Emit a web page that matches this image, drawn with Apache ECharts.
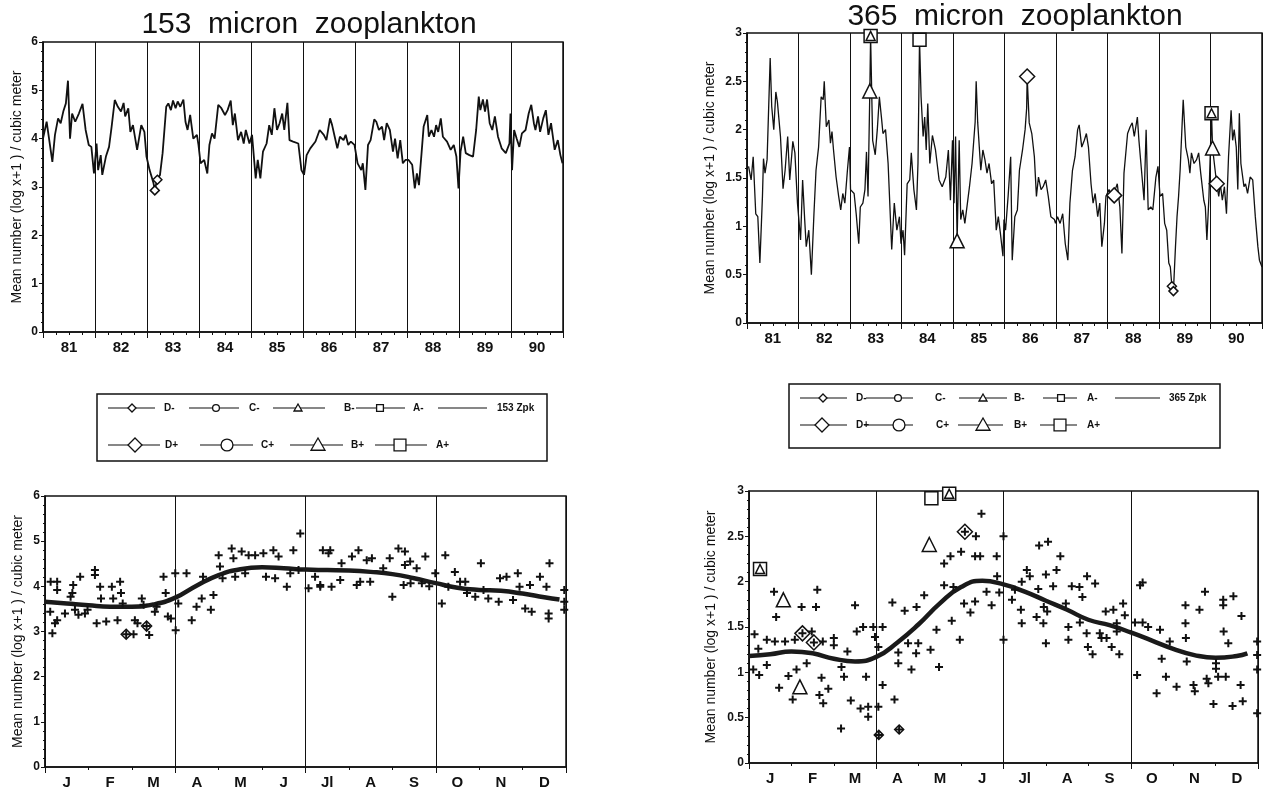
<!DOCTYPE html>
<html>
<head>
<meta charset="utf-8">
<script src="https://cdn.jsdelivr.net/npm/echarts@6/dist/echarts.min.js"></script>
<style>
  html, body { margin: 0; padding: 0; background: #fff; }
  #chart { width: 1278px; height: 792px; }
</style>
</head>
<body>
<div id="chart"></div>
<script>
// ---- 153 micron zooplankton, cruise means 1981-1990 [decimal year, log(x+1)] ----
const zpk153Series = [
  [81.00,4.00],[81.07,4.35],[81.18,3.52],[81.23,4.08],[81.29,4.42],[81.34,4.32],[81.39,4.56],[81.44,4.73],[81.48,5.20],[81.52,4.00],[81.56,4.52],[81.62,4.35],[81.69,4.52],[81.76,4.72],[81.82,4.18],[81.88,3.87],[81.93,3.83],[81.98,3.28],
  [82.03,3.90],[82.06,3.35],[82.11,3.66],[82.14,3.25],[82.21,3.63],[82.27,3.83],[82.32,4.25],[82.38,4.80],[82.44,4.66],[82.50,4.56],[82.55,4.74],[82.58,4.46],[82.64,4.63],[82.68,4.14],[82.73,4.28],[82.81,3.77],[82.89,4.28],[82.95,4.14],[82.99,3.63],
  [83.05,3.35],[83.12,3.10],[83.15,2.95],[83.20,3.16],[83.25,3.25],[83.30,3.70],[83.37,4.66],[83.41,4.73],[83.46,4.59],[83.50,4.79],[83.55,4.63],[83.59,4.77],[83.64,4.66],[83.70,4.81],[83.74,4.35],[83.78,4.18],[83.83,4.49],[83.89,4.00],[83.96,4.08],[83.99,3.87],
  [84.03,3.49],[84.10,3.56],[84.16,3.28],[84.20,3.87],[84.25,4.11],[84.30,4.00],[84.37,4.70],[84.43,4.63],[84.50,4.49],[84.55,4.59],[84.61,4.79],[84.65,4.28],[84.69,4.52],[84.75,3.97],[84.81,4.14],[84.86,3.90],[84.90,4.18],[84.97,3.90],
  [85.02,4.08],[85.09,3.18],[85.13,3.56],[85.18,3.18],[85.23,3.73],[85.30,3.90],[85.35,4.28],[85.40,4.08],[85.45,4.63],[85.50,4.18],[85.55,4.32],[85.60,4.52],[85.64,4.18],[85.70,4.74],[85.74,3.97],[85.81,3.94],[85.91,3.90],[85.97,3.35],
  [86.02,3.25],[86.07,3.66],[86.14,3.80],[86.24,3.94],[86.32,4.18],[86.40,4.08],[86.45,3.97],[86.52,4.42],[86.56,4.28],[86.61,4.04],[86.66,3.80],[86.71,4.04],[86.78,3.97],[86.82,4.08],[86.87,3.87],[86.92,3.94],[86.99,3.87],
  [87.05,3.49],[87.12,3.35],[87.15,3.49],[87.20,2.94],[87.25,3.87],[87.30,3.97],[87.37,4.40],[87.41,4.35],[87.46,4.18],[87.52,4.25],[87.56,3.97],[87.61,4.32],[87.67,4.18],[87.73,3.73],[87.77,4.00],[87.82,3.59],[87.87,3.97],[87.92,3.49],[87.97,3.56],
  [88.03,3.56],[88.10,3.46],[88.15,2.97],[88.19,3.28],[88.23,3.04],[88.28,3.70],[88.32,4.25],[88.39,4.49],[88.42,4.04],[88.47,4.18],[88.52,4.04],[88.56,4.28],[88.60,4.14],[88.65,4.42],[88.69,4.04],[88.77,3.94],[88.84,3.77],[88.90,3.87],[88.95,3.63],[88.99,2.97],
  [89.03,3.73],[89.08,4.04],[89.13,3.70],[89.20,3.66],[89.27,3.63],[89.33,4.18],[89.38,4.87],[89.41,4.59],[89.46,4.81],[89.50,4.56],[89.54,4.81],[89.59,4.32],[89.64,4.18],[89.69,4.46],[89.75,4.04],[89.82,3.80],[89.90,3.70],[89.97,3.90],[89.99,4.52],
  [90.02,3.35],[90.06,4.18],[90.11,4.00],[90.16,3.83],[90.21,4.11],[90.28,4.18],[90.34,4.52],[90.39,4.70],[90.44,4.32],[90.47,4.18],[90.52,4.46],[90.56,4.14],[90.62,4.42],[90.67,4.59],[90.72,4.08],[90.77,4.32],[90.84,3.77],[90.90,3.97],[90.95,3.66],[90.99,3.49]
];
const zpk153DMinus = [[83.15,2.93],[83.20,3.15]];

// ---- 365 micron zooplankton, 1981-1990 ----
const zpk365Series = [
  [81.03,1.62],[81.08,1.48],[81.12,1.72],[81.17,1.13],[81.21,1.10],[81.25,0.62],[81.30,1.31],[81.32,1.70],[81.35,1.55],[81.39,1.69],[81.45,2.74],[81.48,2.24],[81.52,2.00],[81.56,2.39],[81.59,2.29],[81.65,1.93],[81.70,1.39],[81.74,1.58],[81.79,1.93],[81.83,1.48],[81.89,1.88],[81.93,1.76],[81.98,1.24],
  [82.04,0.86],[82.08,1.48],[82.12,1.07],[82.15,0.79],[82.20,0.96],[82.25,0.50],[82.30,1.13],[82.34,1.58],[82.39,1.82],[82.44,2.34],[82.48,2.31],[82.50,2.50],[82.54,2.03],[82.59,2.10],[82.62,1.86],[82.65,1.98],[82.68,1.79],[82.73,1.51],[82.78,1.31],[82.82,1.17],[82.86,1.34],[82.90,1.24],[82.95,1.58],[82.99,1.82],
  [83.01,1.38],[83.08,1.34],[83.12,1.13],[83.17,0.82],[83.20,1.20],[83.25,1.24],[83.29,1.38],[83.32,1.77],[83.35,1.31],[83.385,2.40],[83.40,2.97],[83.44,1.89],[83.49,1.74],[83.53,2.00],[83.57,2.34],[83.61,2.13],[83.64,1.96],[83.69,2.00],[83.74,1.65],[83.81,0.76],[83.86,1.24],[83.91,0.96],[83.96,1.10],[83.99,0.82],
  [84.03,0.96],[84.06,0.70],[84.11,1.44],[84.16,1.48],[84.19,1.76],[84.24,1.38],[84.29,1.17],[84.32,1.65],[84.35,2.93],[84.38,2.34],[84.42,1.93],[84.45,2.13],[84.48,1.79],[84.51,2.27],[84.55,1.65],[84.60,1.94],[84.66,1.79],[84.73,1.48],[84.79,1.41],[84.86,1.51],[84.91,1.79],[84.95,1.27],[84.99,1.89],
  [85.02,1.24],[85.05,1.93],[85.08,0.85],[85.12,1.89],[85.15,1.07],[85.19,1.17],[85.23,1.03],[85.28,1.24],[85.32,1.41],[85.37,1.65],[85.43,2.08],[85.45,2.50],[85.48,2.07],[85.54,1.58],[85.58,1.79],[85.62,1.69],[85.66,1.55],[85.70,1.65],[85.75,1.44],[85.79,1.48],[85.84,0.96],[85.88,1.10],[85.92,0.93],[85.97,0.69],[85.99,1.07],
  [86.02,0.96],[86.07,1.31],[86.12,1.72],[86.15,0.65],[86.20,1.10],[86.25,1.17],[86.29,1.58],[86.35,1.79],[86.40,2.00],[86.43,2.22],[86.44,2.55],[86.48,2.07],[86.53,1.96],[86.58,1.72],[86.62,1.31],[86.66,1.51],[86.71,1.38],[86.75,1.41],[86.80,1.48],[86.85,1.31],[86.90,1.10],[86.97,1.07],[86.99,1.03],
  [87.03,1.10],[87.08,1.03],[87.13,1.13],[87.18,0.82],[87.23,0.65],[87.27,1.24],[87.32,1.58],[87.37,1.72],[87.42,2.00],[87.45,2.05],[87.50,1.82],[87.55,1.89],[87.59,1.96],[87.63,1.82],[87.68,1.44],[87.72,1.24],[87.76,1.34],[87.81,1.10],[87.85,1.24],[87.89,0.79],[87.94,1.03],[87.97,1.31],
  [88.03,1.38],[88.10,1.30],[88.13,1.32],[88.15,1.38],[88.19,1.44],[88.24,1.20],[88.28,0.72],[88.32,1.55],[88.39,1.96],[88.44,2.03],[88.48,2.07],[88.52,1.93],[88.55,2.03],[88.58,2.13],[88.61,1.89],[88.66,1.58],[88.71,1.27],[88.75,2.00],[88.79,1.17],[88.84,1.20],[88.88,1.17],[88.94,1.51],[88.98,1.62],
  [89.02,1.31],[89.07,1.34],[89.11,1.03],[89.15,0.96],[89.19,0.62],[89.22,0.58],[89.25,0.38],[89.28,0.33],[89.32,0.79],[89.35,1.10],[89.38,1.31],[89.41,1.58],[89.45,2.07],[89.47,2.31],[89.52,1.82],[89.57,1.69],[89.60,1.55],[89.63,1.76],[89.68,1.65],[89.73,1.69],[89.77,1.76],[89.81,1.55],[89.87,1.27],[89.90,1.20],[89.93,0.86],[89.97,1.31],
  [90.02,2.17],[90.04,1.81],[90.12,1.44],[90.16,1.31],[90.19,1.44],[90.23,1.27],[90.27,1.41],[90.31,1.13],[90.35,1.72],[90.40,2.20],[90.43,1.89],[90.46,2.00],[90.50,1.82],[90.53,1.38],[90.56,2.17],[90.59,1.65],[90.65,1.41],[90.68,1.44],[90.72,1.34],[90.77,1.51],[90.82,1.48],[90.87,1.10],[90.92,0.79],[90.95,0.65],[91.00,0.58]
];
const zpk365APlus  = [[83.40,2.97],[84.35,2.93],[90.02,2.17]];
const zpk365BMinus = [[83.40,2.97],[90.02,2.17]];
const zpk365BPlus  = [[83.385,2.40],[85.08,0.85],[90.04,1.81]];
const zpk365DPlus  = [[86.44,2.55],[88.13,1.32],[90.12,1.44]];
const zpk365DMinus = [[89.25,0.38],[89.28,0.33]];

// ---- seasonal view: month of year (0-12) ----
const monthNames = ['J','F','M','A','M','J','Jl','A','S','O','N','D'];
const yearNames = ['81','82','83','84','85','86','87','88','89','90'];

const season153Points = [
  [0.12,3.44],[0.17,2.96],[0.13,4.10],[0.28,4.10],[0.28,3.92],[0.28,3.25],[0.23,3.18],[0.46,3.40],[0.59,3.77],[0.65,4.03],[0.69,3.48],[0.81,4.21],[0.63,3.85],[0.77,3.37],[0.92,3.40],[0.98,3.48],
  [1.15,4.36],[1.15,4.25],[1.19,3.18],[1.27,3.99],[1.29,3.73],[1.41,3.22],[1.54,3.99],[1.57,3.73],[1.67,3.25],[1.73,4.10],[1.75,3.85],[1.79,3.62],[1.87,2.94],
  [2.04,2.94],[2.07,3.25],[2.13,3.18],[2.23,3.73],[2.27,3.59],[2.34,3.12],[2.40,2.92],[2.53,3.44],[2.57,3.55],[2.73,4.21],[2.78,3.85],[2.83,3.33],[2.90,3.29],
  [3.00,4.29],[3.01,3.03],[3.07,3.62],[3.26,4.29],[3.38,3.25],[3.49,3.55],[3.61,3.73],[3.64,4.21],[3.82,3.48],[3.88,3.81],
  [4.00,4.69],[4.03,4.44],[4.09,4.18],[4.30,4.84],[4.34,4.62],[4.53,4.77],[4.69,4.69],[4.38,4.21],[4.61,4.29],[4.84,4.69],
  [5.03,4.73],[5.09,4.21],[5.30,4.18],[5.26,4.80],[5.38,4.66],[5.57,3.99],[5.65,4.29],[5.88,5.17],[5.84,4.36],[5.72,4.80],
  [6.07,3.96],[6.22,4.21],[6.34,3.99],[6.40,4.80],[6.53,4.73],[6.57,4.80],[6.34,4.03],[6.60,3.99],[6.80,4.14],[6.83,4.51],
  [7.07,4.66],[7.18,4.03],[7.22,4.80],[7.26,4.10],[7.41,4.58],[7.49,4.10],[7.53,4.62],[7.79,4.40],[7.94,4.62],
  [8.00,3.77],[8.14,4.84],[8.29,4.77],[8.29,4.47],[8.26,4.03],[8.41,4.55],[8.42,4.07],[8.56,4.40],[8.68,4.07],[8.76,4.66],[8.85,4.00],[8.99,4.29],
  [9.22,4.69],[9.14,3.62],[9.29,3.99],[9.44,4.32],[9.56,4.10],[9.68,4.10],[9.72,3.85],[9.91,3.77],
  [10.04,4.51],[10.10,3.92],[10.21,3.73],[10.45,3.66],[10.48,4.18],[10.63,4.21],[10.78,3.70],[10.89,4.29],[10.93,3.99],
  [11.06,3.51],[11.17,4.03],[11.21,3.44],[11.40,4.21],[11.55,3.99],[11.60,3.40],[11.60,3.29],[11.62,4.51],[11.96,3.92],[11.96,3.66],[11.96,3.48]
];
const season153Curve = [
  [0,3.66],[0.5,3.62],[1,3.58],[1.5,3.55],[2,3.55],[2.5,3.60],[3,3.75],[3.5,4.02],[4,4.25],[4.5,4.38],[5,4.42],[5.5,4.40],[6,4.37],
  [6.5,4.36],[7,4.35],[7.5,4.32],[8,4.27],[8.5,4.18],[9,4.07],[9.5,3.97],[10,3.92],[10.5,3.90],[11,3.84],[11.5,3.76],[11.85,3.71]
];
const season153DMinus = [[1.87,2.94],[2.34,3.12]];

const season365Points = [
  [0.13,1.42],[0.10,1.03],[0.24,0.97],[0.22,1.26],[0.42,1.08],[0.42,1.36],[0.59,1.89],[0.64,1.61],[0.61,1.34],[0.71,0.83],[0.85,1.34],[0.93,0.96],
  [1.03,0.70],[1.12,1.03],[1.24,1.72],[1.08,1.36],[1.26,1.43],[1.36,1.10],[1.48,1.45],[1.53,1.33],[1.58,1.72],[1.61,1.91],[1.71,0.94],[1.66,0.75],[1.75,0.66],[1.87,0.82],[1.74,1.34],
  [2.00,1.38],[2.00,1.30],[2.18,1.06],[2.24,0.95],[2.17,0.38],[2.32,1.23],[2.40,0.69],[2.50,1.74],[2.54,1.45],[2.63,0.60],[2.69,1.50],[2.76,0.95],[2.81,0.51],[2.81,0.62],[2.93,1.50],[2.97,1.39],
  [3.05,0.62],[3.05,1.28],[3.06,0.31],[3.15,0.86],[3.15,1.50],[3.43,0.70],[3.38,1.77],[3.52,1.22],[3.52,1.10],[3.54,0.37],[3.67,1.68],[3.75,1.32],[3.83,1.03],[3.95,1.72],[3.99,1.32],[3.94,1.21],
  [4.13,1.85],[4.28,1.25],[4.48,1.06],[4.42,1.47],[4.60,2.20],[4.60,1.96],[4.75,2.28],[4.78,1.57],[4.82,1.94],[4.97,1.36],
  [5.00,2.33],[5.07,1.76],[5.09,2.55],[5.22,1.66],[5.33,2.28],[5.35,2.50],[5.33,1.78],[5.48,2.75],[5.45,2.28],[5.72,1.74],[5.60,1.89],[5.84,2.28],[5.85,2.06],[5.90,1.88],
  [6.00,2.50],[6.00,1.36],[6.20,1.80],[6.27,1.91],[6.43,2.00],[6.41,1.69],[6.43,1.54],[6.55,2.13],[6.62,2.06],[6.78,1.61],[6.84,2.40],[6.82,1.92],[6.94,1.54],[6.95,1.72],
  [7.00,1.32],[7.03,1.67],[7.05,2.44],[7.00,2.08],[7.17,1.95],[7.25,2.13],[7.34,2.28],[7.47,1.76],[7.53,1.50],[7.53,1.36],[7.61,1.95],[7.79,1.94],[7.80,1.55],[7.86,1.83],[7.96,1.43],[7.97,2.06],[7.99,1.28],
  [8.10,1.20],[8.16,1.98],[8.27,1.43],[8.31,1.38],[8.43,1.38],[8.41,1.67],[8.55,1.28],[8.59,1.69],[8.67,1.45],[8.73,1.20],[8.82,1.76],[8.86,1.63],[8.67,1.54],
  [9.15,0.97],[9.22,1.96],[9.28,1.99],[9.10,1.55],[9.28,1.55],[9.41,1.50],[9.61,0.77],[9.69,1.47],[9.73,1.15],[9.83,0.95],[9.92,1.34],
  [10.08,0.84],[10.29,1.74],[10.29,1.54],[10.30,1.38],[10.32,1.12],[10.48,0.86],[10.51,0.79],[10.62,1.69],[10.75,1.89],[10.79,0.93],[10.83,0.88],[10.95,0.65],
  [11.01,1.10],[11.01,1.04],[11.06,0.95],[11.18,1.80],[11.18,1.74],[11.19,1.45],[11.24,0.95],[11.30,1.32],[11.42,1.84],[11.40,0.63],[11.59,0.86],[11.64,0.68],[11.61,1.62],
  [11.98,1.34],[11.98,1.19],[11.98,1.03],[11.98,0.55]
];
const season365Curve = [
  [0,1.18],[0.5,1.20],[1,1.23],[1.5,1.21],[2,1.15],[2.5,1.12],[3,1.17],[3.5,1.33],[4,1.53],[4.5,1.76],[5,1.94],[5.5,2.01],[6,1.97],
  [6.5,1.89],[7,1.79],[7.5,1.69],[8,1.58],[8.5,1.52],[9,1.44],[9.5,1.35],[10,1.26],[10.5,1.19],[11,1.16],[11.5,1.18],[11.75,1.21]
];
const season365APlus  = [[0.26,2.14],[4.30,2.92],[4.72,2.97]];
const season365BMinus = [[0.26,2.14],[4.72,2.97]];
const season365BPlus  = [[0.81,1.80],[1.20,0.84],[4.25,2.41]];
const season365DPlus  = [[1.26,1.43],[1.53,1.33],[5.09,2.55]];
const season365DMinus = [[3.06,0.31],[3.54,0.37]];

// ---- drawing ----
const FONT = '"Liberation Sans", Arial, Helvetica, sans-serif';
const INK = '#111';
const PLUS = 'path://M3,0H5V3H8V5H5V8H3V5H0V3H3Z';
const Y_NAME = 'Mean number (log x+1 ) / cubic meter';

function boundaryXAxis(grid, min, max, interval, minorSplit) {
  return {
    type: 'value', gridIndex: grid, min, max, interval, position: 'bottom',
    axisLine: { show: true, onZero: false, lineStyle: { color: INK, width: 1.5 } },
    axisTick: { show: true, length: 6, lineStyle: { color: INK, width: 1 } },
    minorTick: { show: true, splitNumber: minorSplit, length: 3, lineStyle: { color: INK, width: 1 } },
    axisLabel: { show: false },
    splitLine: { show: true, lineStyle: { color: INK, width: 1 } }
  };
}
function labelXAxis(grid, min, max, names, offsetIndex) {
  return {
    type: 'value', gridIndex: grid, min, max, interval: 0.5, position: 'bottom',
    axisLine: { show: false }, axisTick: { show: false }, splitLine: { show: false },
    axisLabel: {
      show: true, margin: 8, fontSize: 15, fontWeight: 'bold', color: INK, fontFamily: FONT,
      formatter: v => (Math.round(v * 2) % 2 === 1) ? names[Math.floor(v) - offsetIndex] : ''
    }
  };
}
function valueYAxis(grid, max, interval, nameGap) {
  return {
    type: 'value', gridIndex: grid, min: 0, max, interval,
    name: Y_NAME, nameLocation: 'middle', nameGap, nameRotate: 90,
    nameTextStyle: { fontSize: 14, color: INK, fontFamily: FONT },
    axisLine: { show: true, onZero: false, lineStyle: { color: INK, width: 1.5 } },
    axisTick: { show: true, length: 4, lineStyle: { color: INK } },
    minorTick: { show: true, splitNumber: 5, length: 2, lineStyle: { color: INK } },
    axisLabel: { fontSize: 12, fontWeight: 'bold', color: INK, fontFamily: FONT, margin: 5 },
    splitLine: { show: false }
  };
}
function hollow(name, data, symbol, size, xi, yi) {
  return {
    name, type: 'scatter', data, symbol, symbolSize: size, xAxisIndex: xi, yAxisIndex: yi,
    itemStyle: { color: '#fff', borderColor: INK, borderWidth: 1.5, opacity: 1 }, z: 4
  };
}
function pluses(name, data, xi, yi) {
  return {
    name, type: 'scatter', data, symbol: PLUS, symbolSize: 8, xAxisIndex: xi, yAxisIndex: yi,
    itemStyle: { color: INK, opacity: 1 }, z: 5
  };
}

const gridStyle = { show: true, borderColor: INK, borderWidth: 1.5, backgroundColor: 'transparent', containLabel: false, outerBoundsMode: 'none' };

// framed key with two rows of line+marker samples
function legendKey(box, rows) {
  const els = [{ type: 'rect', shape: { x: box.x, y: box.y, width: box.w, height: box.h },
    style: { fill: '#fff', stroke: INK, lineWidth: 1.5 }, silent: true }];
  rows.forEach(row => row.items.forEach(it => {
    els.push({ type: 'line', shape: { x1: it.x1, y1: row.y, x2: it.x2, y2: row.y },
      style: { stroke: INK, lineWidth: 1.2 }, silent: true });
    if (it.kind) els.push(shapeEl(it.kind, it.m, row.y, it.size));
    els.push({ type: 'text', x: it.tx, y: row.y, silent: true,
      style: { text: it.label, fill: INK, font: 'bold 10px ' + FONT,
        verticalAlign: 'middle', textVerticalAlign: 'middle' } });
  }));
  return els;
}
function shapeEl(kind, cx, cy, s) {
  const h = s / 2;
  const st = { fill: '#fff', stroke: INK, lineWidth: 1.3 };
  if (kind === 'diamond') return { type: 'polygon', silent: true, shape: { points: [[cx, cy - h], [cx + h, cy], [cx, cy + h], [cx - h, cy]] }, style: st };
  if (kind === 'circle') return { type: 'circle', silent: true, shape: { cx, cy, r: h * 0.85 }, style: st };
  if (kind === 'triangle') return { type: 'polygon', silent: true, shape: { points: [[cx, cy - h], [cx + h, cy + h * 0.75], [cx - h, cy + h * 0.75]] }, style: st };
  return { type: 'rect', silent: true, shape: { x: cx - h * 0.85, y: cy - h * 0.85, width: s * 0.85, height: s * 0.85 }, style: st };
}

const leftKey = legendKey({ x: 97, y: 394, w: 450, h: 67 }, [
  { y: 408, items: [
    { x1: 108, x2: 155, m: 132, kind: 'diamond', size: 8, tx: 164, label: 'D-' },
    { x1: 189, x2: 239, m: 216, kind: 'circle', size: 8, tx: 249, label: 'C-' },
    { x1: 273, x2: 325, m: 298, kind: 'triangle', size: 8, tx: 344, label: 'B-' },
    { x1: 356, x2: 405, m: 380, kind: 'rect', size: 8, tx: 413, label: 'A-' },
    { x1: 438, x2: 487, tx: 497, label: '153 Zpk' }
  ] },
  { y: 445, items: [
    { x1: 108, x2: 160, m: 135, kind: 'diamond', size: 14, tx: 165, label: 'D+' },
    { x1: 200, x2: 253, m: 227, kind: 'circle', size: 14, tx: 261, label: 'C+' },
    { x1: 290, x2: 343, m: 318, kind: 'triangle', size: 14, tx: 351, label: 'B+' },
    { x1: 375, x2: 427, m: 400, kind: 'rect', size: 14, tx: 436, label: 'A+' }
  ] }
]);
const rightKey = legendKey({ x: 789, y: 384, w: 431, h: 64 }, [
  { y: 398, items: [
    { x1: 800, x2: 847, m: 823, kind: 'diamond', size: 8, tx: 856, label: 'D-' },
    { x1: 866, x2: 913, m: 898, kind: 'circle', size: 8, tx: 935, label: 'C-' },
    { x1: 959, x2: 1007, m: 983, kind: 'triangle', size: 8, tx: 1014, label: 'B-' },
    { x1: 1043, x2: 1077, m: 1061, kind: 'rect', size: 8, tx: 1087, label: 'A-' },
    { x1: 1115, x2: 1160, tx: 1169, label: '365 Zpk' }
  ] },
  { y: 425, items: [
    { x1: 800, x2: 847, m: 822, kind: 'diamond', size: 14, tx: 856, label: 'D+' },
    { x1: 864, x2: 913, m: 899, kind: 'circle', size: 14, tx: 936, label: 'C+' },
    { x1: 958, x2: 1003, m: 983, kind: 'triangle', size: 14, tx: 1014, label: 'B+' },
    { x1: 1040, x2: 1077, m: 1060, kind: 'rect', size: 14, tx: 1087, label: 'A+' }
  ] }
]);

const titles = [
  { type: 'text', x: 309, y: 25, silent: true, style: { text: '153  micron  zooplankton', fill: INK, font: '30px ' + FONT,
    align: 'center', verticalAlign: 'middle', textAlign: 'center', textVerticalAlign: 'middle' } },
  { type: 'text', x: 1015, y: 17, silent: true, style: { text: '365  micron  zooplankton', fill: INK, font: '30px ' + FONT,
    align: 'center', verticalAlign: 'middle', textAlign: 'center', textVerticalAlign: 'middle' } }
];

const chart = echarts.init(document.getElementById('chart'), null, { renderer: 'canvas' });
chart.setOption({
  animation: false,
  backgroundColor: '#fff',
  grid: [
    Object.assign({ left: 43, top: 42, width: 520, height: 290 }, gridStyle),
    Object.assign({ left: 747, top: 33, width: 515, height: 290 }, gridStyle),
    Object.assign({ left: 45, top: 496, width: 521, height: 271 }, gridStyle),
    Object.assign({ left: 749, top: 491, width: 509, height: 272 }, gridStyle)
  ],
  xAxis: [
    boundaryXAxis(0, 81, 91, 1, 4), labelXAxis(0, 81, 91, yearNames, 81),
    boundaryXAxis(1, 81, 91, 1, 4), labelXAxis(1, 81, 91, yearNames, 81),
    boundaryXAxis(2, 0, 12, 3, 3), labelXAxis(2, 0, 12, monthNames, 0),
    boundaryXAxis(3, 0, 12, 3, 3), labelXAxis(3, 0, 12, monthNames, 0)
  ],
  yAxis: [
    valueYAxis(0, 6, 1, 19),
    valueYAxis(1, 3, 0.5, 30),
    valueYAxis(2, 6, 1, 20),
    valueYAxis(3, 3, 0.5, 31)
  ],
  series: [
    { name: '153 Zpk', type: 'line', data: zpk153Series, xAxisIndex: 0, yAxisIndex: 0, showSymbol: false,
      lineStyle: { color: INK, width: 1.8 }, z: 3 },
    hollow('D-', zpk153DMinus, 'diamond', 9, 0, 0),

    { name: '365 Zpk', type: 'line', data: zpk365Series, xAxisIndex: 2, yAxisIndex: 1, showSymbol: false,
      lineStyle: { color: INK, width: 1.3 }, z: 3 },
    hollow('A+', zpk365APlus, 'rect', 13, 2, 1),
    hollow('B+', zpk365BPlus, 'triangle', 14, 2, 1),
    hollow('D+', zpk365DPlus, 'diamond', 15, 2, 1),
    hollow('D-', zpk365DMinus, 'diamond', 9, 2, 1),
    hollow('B-', zpk365BMinus, 'triangle', 9, 2, 1),

    { name: '153 seasonal', type: 'line', data: season153Curve, xAxisIndex: 4, yAxisIndex: 2, smooth: true, showSymbol: false,
      lineStyle: { color: '#1a1a1a', width: 4.5 }, z: 3 },
    hollow('D-', season153DMinus, 'diamond', 10, 4, 2),
    pluses('153 samples', season153Points, 4, 2),

    { name: '365 seasonal', type: 'line', data: season365Curve, xAxisIndex: 6, yAxisIndex: 3, smooth: true, showSymbol: false,
      lineStyle: { color: '#1a1a1a', width: 4.5 }, z: 3 },
    hollow('A+', season365APlus, 'rect', 13, 6, 3),
    hollow('B+', season365BPlus, 'triangle', 14, 6, 3),
    hollow('D+', season365DPlus, 'diamond', 15, 6, 3),
    hollow('D-', season365DMinus, 'diamond', 9, 6, 3),
    hollow('B-', season365BMinus, 'triangle', 9, 6, 3),
    pluses('365 samples', season365Points, 6, 3)
  ],
  graphic: { elements: titles.concat(leftKey, rightKey) }
});
</script>
</body>
</html>
